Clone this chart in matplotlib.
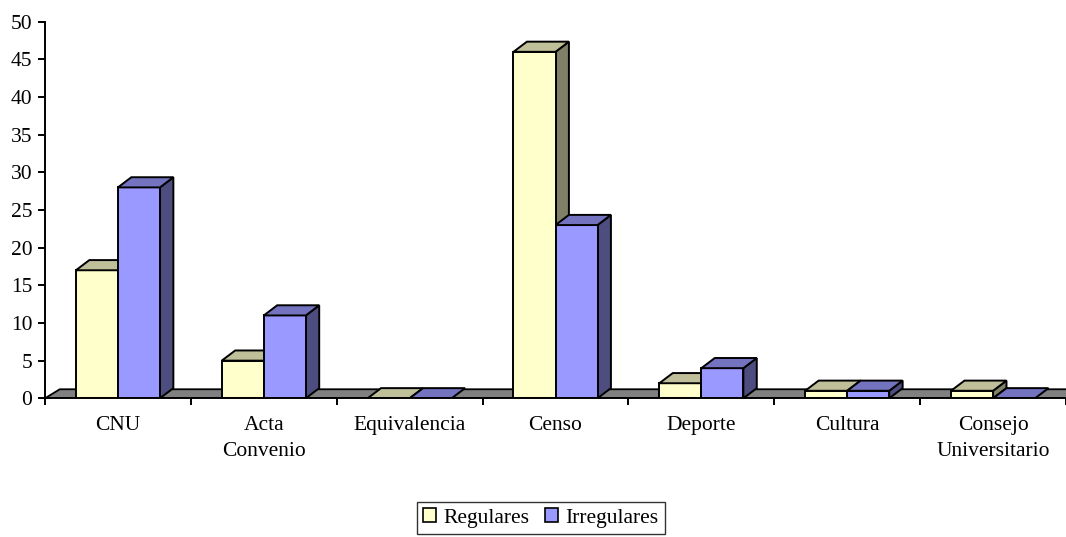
import matplotlib.pyplot as plt
from matplotlib.patches import Polygon, Patch

plt.rcParams['font.family'] = ['Liberation Serif', 'DejaVu Serif']

categories = ['CNU', 'Acta\nConvenio', 'Equivalencia', 'Censo', 'Deporte',
              'Cultura', 'Consejo\nUniversitario']
regulares = [17, 5, 0, 46, 2, 1, 1]
irregulares = [28, 11, 0, 23, 4, 1, 0]
series_names = ['Regulares', 'Irregulares']
y_ticks = list(range(0, 51, 5))

# front / top / side shades for each series
yellow = ('#FFFFCC', '#BFBF99', '#808066')
blue = ('#9999FF', '#7373BF', '#4D4D80')

width = 0.288   # bar width in category units
dx = 0.092      # depth offset, x (category units)
dy = 1.35       # depth offset, y (data units)
fs = 15.5

fig = plt.figure(figsize=(10.66, 5.37), dpi=100)
ax = fig.add_axes([45 / 1066, 1 - 398.3 / 537, 1021 / 1066, (398.3 - 21.7) / 537])
ax.set_xlim(0, len(categories))
ax.set_ylim(0, 50)

# gray floor
n = len(categories)
ax.add_patch(Polygon([(0, 0), (n + 1, 0), (n + 1 + dx, 1.2), (dx * 1.1, 1.2)],
                     closed=True, facecolor='#808080', edgecolor='black',
                     linewidth=1.3, zorder=1, clip_on=True))


def bar3d(x0, value, shades):
    front, top, side = shades
    x1 = x0 + width
    kw = dict(closed=True, edgecolor='black', linewidth=1.4, zorder=2,
              joinstyle='miter')
    if value > 0:
        ax.add_patch(Polygon([(x1, 0), (x1 + dx, dy), (x1 + dx, value + dy), (x1, value)],
                             facecolor=side, **kw))
        ax.add_patch(Polygon([(x0, 0), (x1, 0), (x1, value), (x0, value)],
                             facecolor=front, **kw))
    ax.add_patch(Polygon([(x0, value), (x0 + dx, value + dy), (x1 + dx, value + dy), (x1, value)],
                         facecolor=top, **kw))


for i in range(n):
    c = i + 0.5
    bar3d(c - width, regulares[i], yellow)
    bar3d(c, irregulares[i], blue)

for s in ['top', 'right']:
    ax.spines[s].set_visible(False)
for s in ['left', 'bottom']:
    ax.spines[s].set_linewidth(1.4)
    ax.spines[s].set_zorder(3)

ax.set_yticks(y_ticks)
ax.set_xticks(range(n + 1), minor=False)
ax.set_xticklabels([])
ax.set_xticks([i + 0.5 for i in range(n)], minor=True)
ax.set_xticklabels(categories, minor=True, fontsize=fs, linespacing=1.5)
ax.tick_params(axis='x', which='major', length=5, width=1.4, direction='out')
ax.tick_params(axis='x', which='minor', length=0, pad=13)
ax.tick_params(axis='y', length=5, width=1.4, direction='out', labelsize=fs, pad=4)

handles = [Patch(facecolor=yellow[0], edgecolor='black', linewidth=1.2),
           Patch(facecolor=blue[0], edgecolor='black', linewidth=1.2)]
fig.legend(handles, series_names, loc='upper center', bbox_to_anchor=(541 / 1066, 1 - 502 / 537),
           ncol=2, fontsize=fs, frameon=True, fancybox=False, edgecolor='black',
           handlelength=0.6, handleheight=0.6, handletextpad=0.35, columnspacing=0.7,
           borderpad=0.3, borderaxespad=0)

fig.savefig('out.png', dpi=100)
